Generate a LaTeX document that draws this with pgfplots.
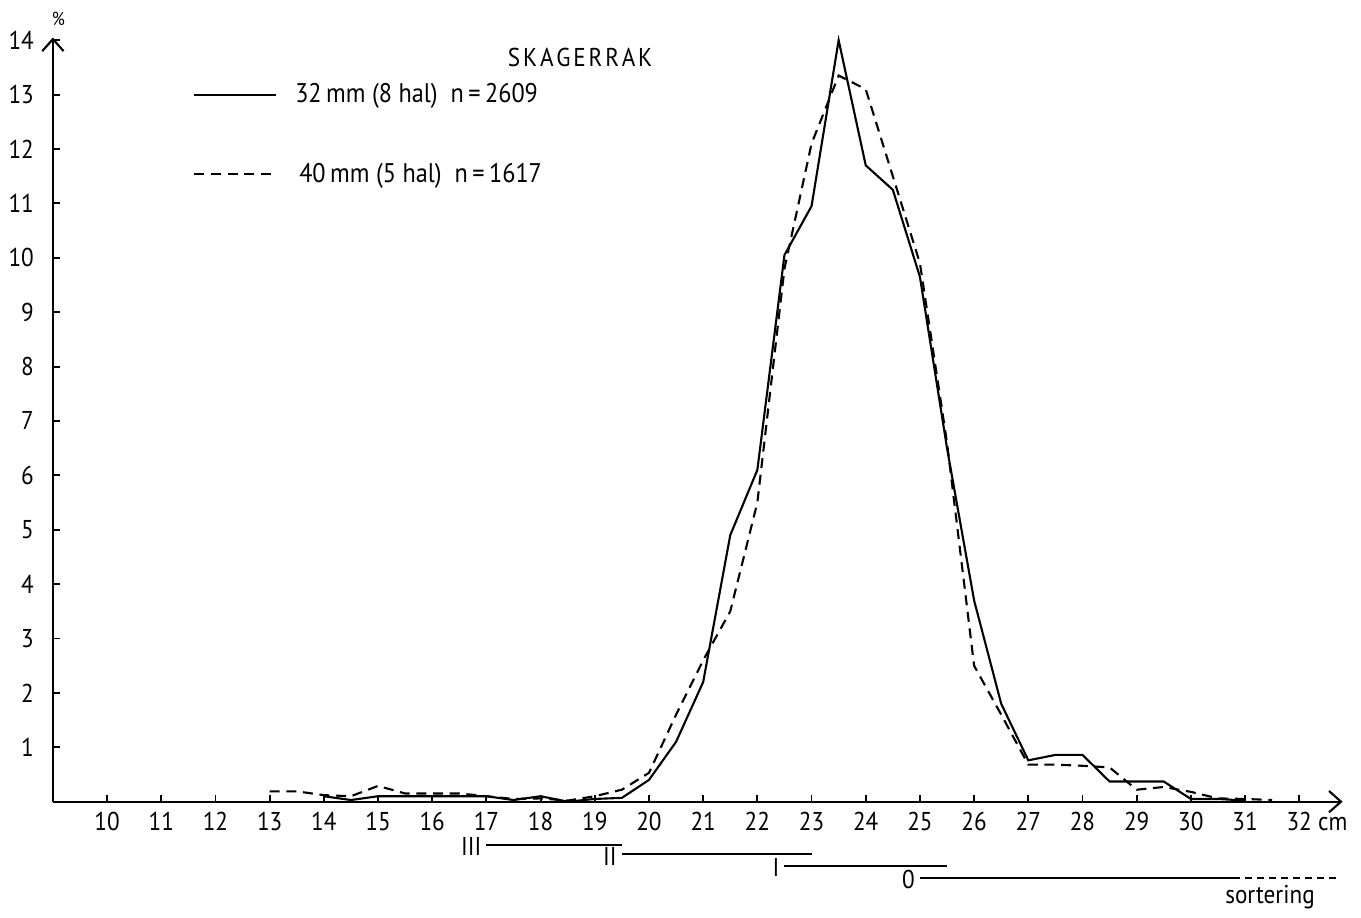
\documentclass[border=0pt]{standalone}
\usepackage{fontspec}
\setmainfont{PT Sans}[FakeStretch=0.9]
\usepackage{pgfplots}
\pgfplotsset{compat=1.18}
\usepackage{pgfplotstable}
\usetikzlibrary{arrows.meta}

% 32 mm mesh, 8 hauls, n=2609
\pgfplotstableread{
x y
14 0.10
14.5 0.03
15 0.10
15.5 0.10
16 0.10
16.5 0.10
17 0.10
17.5 0.03
18 0.10
18.5 0.00
19 0.05
19.5 0.07
20 0.40
20.5 1.10
21 2.20
21.5 4.90
22 6.10
22.5 10.05
23 10.95
23.5 14.00
24 11.70
24.5 11.25
25 9.65
25.5 6.50
26 3.70
26.5 1.80
27 0.76
27.5 0.86
28 0.86
28.5 0.37
29 0.37
29.5 0.37
30 0.05
30.5 0.05
31 0.02
}\meshA

% 40 mm mesh, 5 hauls, n=1617
\pgfplotstableread{
x y
13 0.19
13.5 0.19
14 0.12
14.5 0.10
15 0.29
15.5 0.15
16 0.15
16.5 0.15
17 0.10
17.5 0.05
18 0.06
18.5 0.02
19 0.10
19.5 0.22
20 0.53
20.5 1.60
21 2.60
21.5 3.50
22 5.50
22.5 9.80
23 12.10
23.5 13.35
24 13.10
24.5 11.50
25 9.90
25.5 6.60
26 2.50
26.5 1.60
27 0.68
27.5 0.68
28 0.66
28.5 0.63
29 0.22
29.5 0.27
30 0.18
30.5 0.06
31 0.05
31.5 0.03
}\meshB

\begin{document}
\fontsize{11}{13}\selectfont
\begin{tikzpicture}
\begin{axis}[
  x=0.813cm, y=0.816cm,
  xmin=9, xmax=32.8, ymin=0, ymax=14.05,
  axis lines=left,
  axis line style={line width=0.9pt, -{Straight Barb[length=1.8mm, width=3.2mm]}},
  xtick={10,...,32},
  xticklabels={10,11,12,13,14,15,16,17,18,19,20,21,22,23,24,25,26,27,28,29,30,31,32\rlap{\ cm}},
  ytick={1,...,14},
  tick align=inside,
  major tick length=0.1cm,
  tick style={line width=0.8pt, black},
  yticklabel style={xshift=-0.15cm},
  xticklabel style={yshift=-0.02cm},
  /pgf/number format/assume math mode=true,
  clip=false,
  legend style={at={(axis cs:11.45,13.38)}, anchor=north west, draw=none,
                fill=none, row sep=0.7cm, cells={anchor=west},
                font=\fontsize{11.5}{13}\selectfont},
  legend image code/.code={\draw[#1] (0cm,0cm) -- (1.23cm,0cm);},
]
\addplot[black, line width=0.9pt] table {\meshA};
\addlegendentry{\kern0.2cm 32\,mm\ (8 hal)\ \ n\,=\,2609}
\addplot[black, line width=0.9pt, dash pattern=on 0.15cm off 0.1cm] table {\meshB};
\addlegendentry{\kern0.26cm 40\,mm (5 hal)\ \ n\,=\,1617}

% sorting classes below the axis
\addplot[black, line width=0.8pt, forget plot] coordinates {(17,-0.79) (19.5,-0.79)};
\addplot[black, line width=0.8pt, forget plot] coordinates {(19.5,-0.97) (23,-0.97)};
\addplot[black, line width=0.8pt, forget plot] coordinates {(22.5,-1.18) (25.5,-1.18)};
\addplot[black, line width=0.8pt, forget plot] coordinates {(25,-1.40) (30.9,-1.40)};
\addplot[black, line width=0.8pt, dash pattern=on 0.1cm off 0.08cm, forget plot]
  coordinates {(31,-1.40) (32.75,-1.40)};
\node[anchor=east, font=\rmfamily, inner sep=2pt] at (axis cs:17,-0.82) {III};
\node[anchor=east, font=\rmfamily, inner sep=2pt] at (axis cs:19.5,-1.0) {II};
\node[anchor=east, font=\rmfamily, inner sep=2pt] at (axis cs:22.5,-1.21) {I};
\node[anchor=east, inner sep=2pt] at (axis cs:25,-1.43) {0};
\node at (axis cs:31.46,-1.75) {sortering};

\node at (axis cs:18.73,13.69) {\fontsize{11}{13}\selectfont S\kern1.2pt K\kern1.2pt A\kern1.2pt G\kern1.2pt E\kern1.2pt R\kern1.2pt R\kern1.2pt A\kern1.2pt K};
\node at (axis cs:9.1,14.4) {\fontsize{8}{9}\selectfont\%};

\path (axis cs:8.03,14.74) rectangle (axis cs:33.14,-2.02);
\end{axis}
\end{tikzpicture}
\end{document}
